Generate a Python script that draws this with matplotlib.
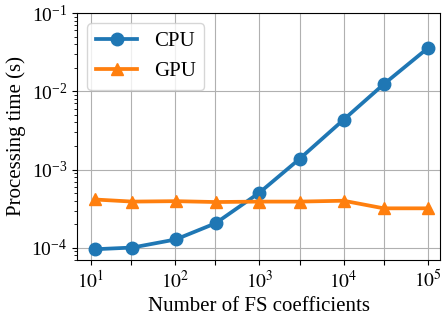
import numpy as np
import matplotlib
matplotlib.use("Agg")
import matplotlib.pyplot as plt

plt.rcParams['font.family'] = ['Liberation Serif', 'DejaVu Serif']
plt.rcParams['mathtext.fontset'] = 'stix'
plt.rcParams['font.size'] = 15

n_coef = [11, 31, 101, 301, 1001, 3001, 10001, 30001, 100001]
cpu = [9.6e-5, 1.01e-4, 1.28e-4, 2.06e-4, 5.07e-4, 1.37e-3, 4.33e-3, 1.23e-2, 3.55e-2]
gpu = [4.15e-4, 3.9e-4, 3.95e-4, 3.85e-4, 3.9e-4, 3.9e-4, 4.0e-4, 3.2e-4, 3.2e-4]

xticks = [10, 30, 100, 300, 1000, 3000, 10000, 30000, 100000]
xlabels = ['$10^{1}$', '', '$10^{2}$', '', '$10^{3}$', '', '$10^{4}$', '', '$10^{5}$']

fig = plt.figure(figsize=(4.43, 3.22), dpi=100)
ax = fig.add_axes([77/443, 1 - 260/322, (440-77)/443, (260-13)/322])

ax.plot(n_coef, cpu, 'o-', lw=2.7, ms=9, label='CPU', color='#1f77b4')
ax.plot(n_coef, gpu, '^-', lw=2.7, ms=9, label='GPU', color='#ff7f0e')
ax.set_xscale('log')
ax.set_yscale('log')
ax.set_xticks(xticks)
ax.set_xticklabels(xlabels)
ax.xaxis.set_minor_locator(matplotlib.ticker.NullLocator())
ax.set_xlim(6.8, 1.4e5)
ax.set_ylim(7e-5, 1e-1)
ax.tick_params(labelsize=14)
ax.grid(True, color='#b0b0b0', lw=0.8)
ax.set_xlabel('Number of FS coefficients')
ax.set_ylabel('Processing time (s)')
ax.legend(loc='upper left', fontsize=15)

fig.savefig('out.png', dpi=100)
